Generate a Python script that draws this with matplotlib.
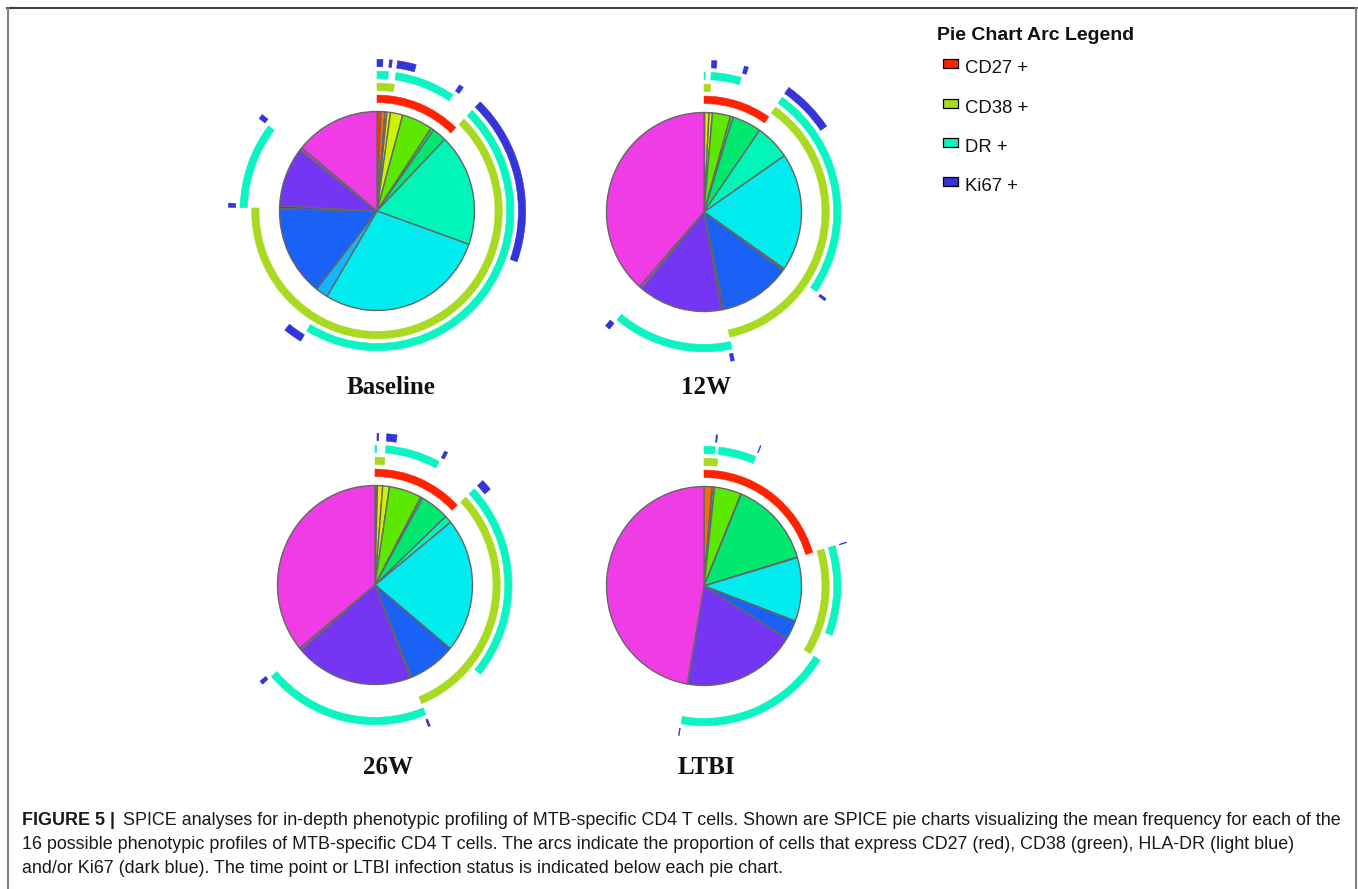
import matplotlib
matplotlib.use("Agg")
import matplotlib.pyplot as plt
from matplotlib.patches import Wedge, Rectangle
from matplotlib.lines import Line2D
import numpy as np

W, H = 1358, 889
DPI = 100

# ---------------- data ----------------
phenotypes = [
    "CD27+CD38+DR+Ki67+", "CD27+CD38+DR+Ki67-", "CD27+CD38+DR-Ki67+", "CD27+CD38+DR-Ki67-",
    "CD27+CD38-DR+Ki67+", "CD27+CD38-DR+Ki67-", "CD27+CD38-DR-Ki67+", "CD27+CD38-DR-Ki67-",
    "CD27-CD38+DR+Ki67+", "CD27-CD38+DR+Ki67-", "CD27-CD38+DR-Ki67+", "CD27-CD38+DR-Ki67-",
    "CD27-CD38-DR+Ki67+", "CD27-CD38-DR+Ki67-", "CD27-CD38-DR-Ki67+", "CD27-CD38-DR-Ki67-",
]
markers = ["CD27", "CD38", "DR", "Ki67"]
legend_labels = ["CD27 +", "CD38 +", "DR +", "Ki67 +"]
marker_colors = ["#FF2200", "#A8DA22", "#0AF5C2", "#3434D8"]
slice_colors = [
    "#FF3300", "#FF6A00", "#FFA500", "#F5E600",
    "#C8F500", "#5CE800", "#20E840", "#00E870",
    "#00F5B8", "#00ECEE", "#10B8F8", "#1A62F5",
    "#3A3AE8", "#7535F5", "#B43CEE", "#F03CE5",
]

# mean frequency (%) of each phenotype
baseline = [0.64, 0.69, 0.31, 0.58, 2.03, 5.11, 0.50, 2.36,
            18.22, 28.14, 2.06, 14.75, 0.44, 9.61, 0.53, 14.03]
week12 = [0.00, 0.14, 0.00, 0.69, 0.56, 3.00, 0.44, 4.83,
          5.78, 19.22, 0.28, 11.78, 0.40, 13.85, 0.56, 38.47]
week26 = [0.00, 0.22, 0.19, 0.86, 1.11, 5.39, 0.36, 4.78,
          1.22, 21.89, 0.00, 7.91, 0.22, 19.50, 0.42, 35.92]
ltbi = [0.00, 1.31, 0.14, 0.30, 0.00, 4.44, 0.08, 14.06,
        0.08, 10.36, 0.00, 3.14, 0.00, 18.80, 0.08, 47.27]

panels = [baseline, week12, week26, ltbi]
panel_labels = ["Baseline", "12W", "26W", "LTBI"]

legend_title = "Pie Chart Arc Legend"
caption_bold = "FIGURE 5 |"
caption_lines = [
    "SPICE analyses for in-depth phenotypic profiling of MTB-specific CD4 T cells. Shown are SPICE pie charts visualizing the mean frequency for each of the",
    "16 possible phenotypic profiles of MTB-specific CD4 T cells. The arcs indicate the proportion of cells that express CD27 (red), CD38 (green), HLA-DR (light blue)",
    "and/or Ki67 (dark blue). The time point or LTBI infection status is indicated below each pie chart.",
]

# ---------------- layout ----------------
centers = [(377, 211), (704, 212), (375, 585), (704, 586)]
label_pos = [(391, 393.5), (706, 394), (388, 774), (706, 773.5)]
RX, RY = 97.5, 99.5
L = 1.62
arc_inner = [1.09, 1.21, 1.33, 1.45]
arc_width = 0.075

fig = plt.figure(figsize=(W / DPI, H / DPI), dpi=DPI)
fig.patch.set_facecolor("white")
overlay = fig.add_axes([0, 0, 1, 1])
overlay.set_xlim(0, W)
overlay.set_ylim(H, 0)
overlay.axis("off")

# frame
overlay.add_line(Line2D([7, 1356.5], [8, 8], color="#404040", lw=1.5))
overlay.add_line(Line2D([7.5, 7.5], [8, H], color="#808080", lw=1.5))
overlay.add_line(Line2D([1355.5, 1355.5], [8, H], color="#808080", lw=1.5))


def marker_positive(pheno, m):
    idx = pheno.index(m)
    return pheno[idx + len(m)] == "+"


for vals, (cx, cy), lab, (lx, ly) in zip(panels, centers, panel_labels, label_pos):
    ax = fig.add_axes([(cx - L * RX) / W, (H - cy - L * RY) / H,
                       2 * L * RX / W, 2 * L * RY / H])
    ax.pie(vals, colors=slice_colors, startangle=90, counterclock=False, radius=1,
           wedgeprops=dict(edgecolor="#666666", linewidth=1.0))
    ax.set_xlim(-L, L)
    ax.set_ylim(-L, L)
    ax.set_aspect("auto")
    ax.axis("off")

    frac = np.asarray(vals, dtype=float) / np.sum(vals)
    edges = np.concatenate([[0.0], np.cumsum(frac)]) * 360.0
    for k, m in enumerate(markers):
        pos = [marker_positive(p, m) for p in phenotypes]
        i = 0
        while i < len(pos):
            if pos[i]:
                j = i
                while j + 1 < len(pos) and pos[j + 1]:
                    j += 1
                a0, a1 = edges[i], edges[j + 1]
                if a1 - a0 > 0:
                    ax.add_patch(Wedge((0, 0), arc_inner[k] + arc_width, 90 - a1, 90 - a0,
                                       width=arc_width, facecolor=marker_colors[k],
                                       edgecolor=marker_colors[k], linewidth=0.4))
                i = j + 1
            else:
                i += 1

    overlay.text(lx, ly, lab, ha="center", va="baseline", fontsize=18,
                 fontweight="bold", family="Liberation Serif", color="#111111")

# legend
overlay.text(937, 40, legend_title, ha="left", va="baseline", fontsize=14,
             fontweight="bold", family="Liberation Sans", color="#111111")
for i, (lab, col) in enumerate(zip(legend_labels, marker_colors)):
    yb = 73.3 + i * 39.3
    overlay.add_patch(Rectangle((943, yb - 14), 15, 9, facecolor=col,
                                edgecolor="black", linewidth=0.9))
    overlay.text(965, yb, lab, ha="left", va="baseline", fontsize=13.3,
                 family="Liberation Sans", color="#111111")

# caption
renderer = fig.canvas.get_renderer()
target_right = 1341.0
x0 = 22.0
size = 11.5


def measure(sz):
    t1 = overlay.text(0, 0, caption_bold, fontsize=sz, fontweight="bold", family="Liberation Sans")
    t2 = overlay.text(0, 0, caption_lines[0], fontsize=sz, family="Liberation Sans")
    w1 = t1.get_window_extent(renderer).width
    w2 = t2.get_window_extent(renderer).width
    t1.remove()
    t2.remove()
    return w1, w2


w1, w2 = measure(size)
gap = size * 0.42
size = size * (target_right - x0) / (w1 + gap + w2)
w1, w2 = measure(size)
gap = (target_right - x0) - w1 - w2

baselines = [825, 849, 873]
overlay.text(x0, baselines[0], caption_bold, fontsize=size, fontweight="bold",
             family="Liberation Sans", va="baseline", ha="left", color="#1a1a1a")
overlay.text(x0 + w1 + gap, baselines[0], caption_lines[0], fontsize=size,
             family="Liberation Sans", va="baseline", ha="left", color="#1a1a1a")
for yb, line in zip(baselines[1:], caption_lines[1:]):
    overlay.text(x0, yb, line, fontsize=size, family="Liberation Sans",
                 va="baseline", ha="left", color="#1a1a1a")

fig.savefig("out.png", dpi=DPI, facecolor="white")
